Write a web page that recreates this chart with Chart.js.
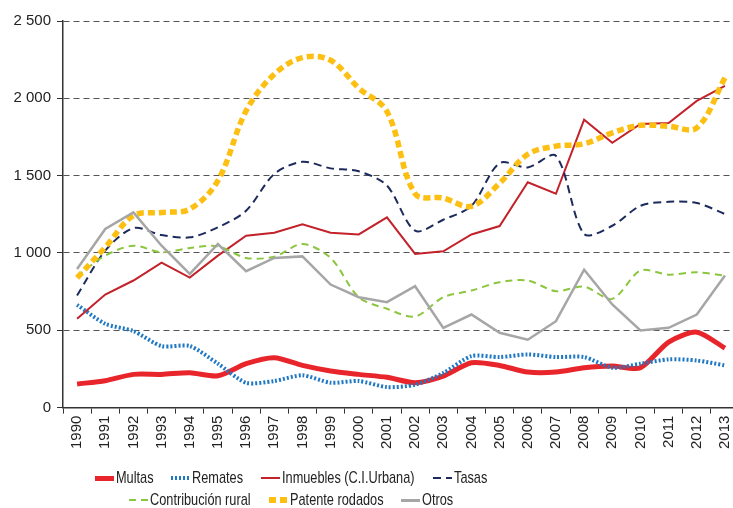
<!DOCTYPE html>
<html>
<head>
<meta charset="utf-8">
<script src="https://cdn.jsdelivr.net/npm/chart.js@4.4.1/dist/chart.umd.min.js"></script>
<style>
  html, body { margin: 0; padding: 0; overflow: hidden; background: #fff; }
  #wrap { position: relative; width: 733px; height: 508px; overflow: hidden; }
  #chart { position: absolute; left: 0; top: 0; }
  #legend { position: absolute; left: 2px; top: 467px; width: 578px;
            font-family: 'Liberation Sans', Arial, sans-serif;
            font-size: 17px; color: #222; }
  .row { display: flex; justify-content: center; height: 22px; align-items: center; }
  .item { display: flex; align-items: center; margin: 0 9px; white-space: nowrap; }
  .sample { width: 19px; margin-right: 2px; }
  .txt { display: inline-block; transform: scaleX(0.75); transform-origin: left center; }
</style>
</head>
<body>
<div id="wrap">
  <canvas id="chart" width="745" height="508"></canvas>
  <div id="legend"></div>
</div>
<script>
const years = ['1990','1991','1992','1993','1994','1995','1996','1997','1998','1999','2000','2001',
               '2002','2003','2004','2005','2006','2007','2008','2009','2010','2011','2012','2013'];

const multas = [153, 174, 215, 215, 226, 206, 284, 323, 273, 237, 215, 196,
                161, 204, 290, 273, 230, 230, 258, 269, 258, 424, 488, 385];
const remates = [665, 542, 495, 398, 398, 284, 161, 172, 209, 161, 172, 133,
                 148, 224, 333, 327, 344, 327, 327, 258, 284, 312, 305, 273];
const inmuebles = [574, 731, 822, 938, 841, 983, 1112, 1131, 1185, 1131, 1120, 1230,
                   994, 1011, 1120, 1174, 1457, 1383, 1862, 1713, 1834, 1840, 1983, 2081];
const tasas = [725, 1015, 1161, 1116, 1101, 1166, 1273, 1511, 1590, 1547, 1528, 1436,
               1144, 1215, 1305, 1581, 1553, 1628, 1123, 1176, 1305, 1331, 1323, 1252];
const contribucion = [850, 983, 1047, 1004, 1032, 1043, 968, 976, 1058, 968, 714, 639,
                      589, 714, 757, 811, 822, 753, 783, 703, 886, 860, 875, 854];
const patente = [839, 1037, 1241, 1262, 1284, 1468, 1919, 2156, 2263, 2246, 2066, 1915,
                 1383, 1355, 1302, 1451, 1638, 1691, 1706, 1777, 1826, 1819, 1809, 2132];
const otros = [897, 1155, 1262, 1047, 865, 1058, 882, 968, 978, 796, 714, 682,
               785, 516, 602, 484, 439, 559, 892, 667, 499, 516, 602, 854];

const yTicks = [0, 500, 1000, 1500, 2000, 2500];

// estilos de cada serie (orden de la leyenda)
const series = [
  { label: 'Multas', data: multas, color: '#e8252b', width: 5, dash: [], tension: 0.25 },
  { label: 'Remates', data: remates, color: '#1f78c4', width: 4, dash: [2, 2], tension: 0.25 },
  { label: 'Inmuebles (C.I.Urbana)', data: inmuebles, color: '#c3222b', width: 2, dash: [], tension: 0 },
  { label: 'Tasas', data: tasas, color: '#1d2b5c', width: 2, dash: [8, 5], tension: 0.3 },
  { label: 'Contribución rural', data: contribucion, color: '#8cc63f', width: 2, dash: [7, 5], tension: 0.3 },
  { label: 'Patente rodados', data: patente, color: '#fdbf12', width: 5.5, dash: [7, 4], tension: 0.35 },
  { label: 'Otros', data: otros, color: '#a6a6a6', width: 2.5, dash: [], tension: 0 }
];

const ctx = document.getElementById('chart').getContext('2d');
new Chart(ctx, {
  type: 'line',
  data: {
    labels: years,
    datasets: series.map((s, i) => ({
      label: s.label,
      data: s.data,
      borderColor: s.color,
      backgroundColor: s.color,
      borderWidth: s.width,
      borderDash: s.dash,
      borderCapStyle: 'butt',
      tension: s.tension,
      pointRadius: 0,
      fill: false,
      order: series.length - i
    }))
  },
  options: {
    responsive: false,
    animation: false,
    layout: { padding: { top: 21, right: 2, bottom: 57, left: 0 } },
    plugins: { legend: { display: false }, tooltip: { enabled: false } },
    scales: {
      x: {
        offset: true,
        grid: { offset: true, drawOnChartArea: false, tickLength: 6, color: '#333' },
        border: { display: true, color: '#333', width: 1.5 },
        ticks: {
          autoSkip: false, minRotation: 90, maxRotation: 90, padding: 2,
          color: '#222', font: { family: "'Liberation Sans', Arial, sans-serif", size: 15 }
        }
      },
      y: {
        min: 0, max: 2500,
        afterBuildTicks: scale => { scale.ticks = yTicks.map(v => ({ value: v })); },
        afterFit: scale => { scale.width = 63; },
        grid: { color: '#555', tickLength: 6, tickColor: '#333', tickBorderDash: [] },
        border: { display: true, color: '#333', width: 1.5, dash: [6, 4] },
        ticks: {
          padding: 6, color: '#222',
          font: { family: "'Liberation Sans', Arial, sans-serif", size: 15 },
          callback: v => String(v).replace(/\B(?=(\d{3})+(?!\d))/g, ' ')
        }
      }
    }
  }
});

// leyenda en HTML, dos filas como en el original (letra estrecha)
function sampleStyle(s) {
  const h = Math.max(2, Math.round(s.width));
  if (!s.dash.length) return `height:${h}px;background:${s.color};`;
  const on = s.dash[0], off = s.dash[1];
  return `height:${h}px;background:repeating-linear-gradient(90deg, ${s.color} 0 ${on}px, transparent ${on}px ${on + off}px);`;
}
const rows = [series.slice(0, 4), series.slice(4)];
document.getElementById('legend').innerHTML = rows.map(r =>
  '<div class="row">' + r.map(s =>
    `<div class="item"><div class="sample" style="${sampleStyle(s)}"></div><span class="txt">${s.label}</span></div>`
  ).join('') + '</div>'
).join('');
document.querySelectorAll('#legend .txt').forEach(el => {
  el.style.marginRight = (-0.25 * el.offsetWidth) + 'px';
});
</script>
</body>
</html>
